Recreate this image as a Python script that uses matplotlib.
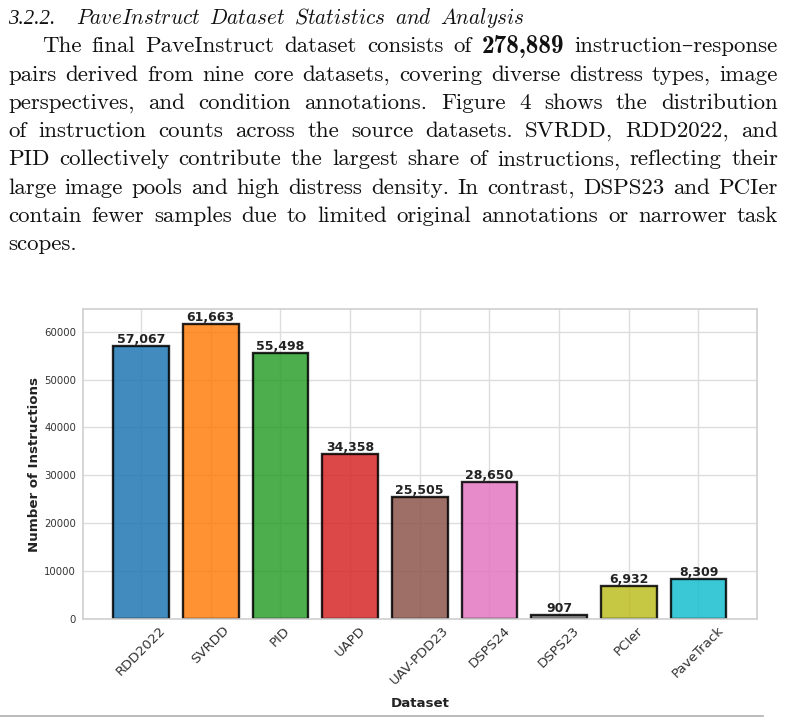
import matplotlib
matplotlib.use("Agg")
import matplotlib.pyplot as plt
from matplotlib.lines import Line2D

# chart data
datasets = ["RDD2022", "SVRDD", "PID", "UAPD", "UAV-PDD23",
            "DSPS24", "DSPS23", "PCIer", "PaveTrack"]
counts = [57067, 61663, 55498, 34358, 25505, 28650, 907, 6932, 8309]
bar_colors = ["tab:blue", "tab:orange", "tab:green", "tab:red", "tab:brown",
              "tab:pink", "tab:gray", "tab:olive", "tab:cyan"]

# page text
heading_num = "3.2.2."
heading = "PaveInstruct Dataset Statistics and Analysis"
para_lines = [
    "The final PaveInstruct dataset consists of **278,889 instruction–response",
    "pairs derived from nine core datasets, covering diverse distress types, image",
    "perspectives, and condition annotations. Figure 4 shows the distribution",
    "of instruction counts across the source datasets. SVRDD, RDD2022, and",
    "PID collectively contribute the largest share of instructions, reflecting their",
    "large image pools and high distress density. In contrast, DSPS23 and PCIer",
    "contain fewer samples due to limited original annotations or narrower task",
    "scopes.",
]

W, H, DPI = 788, 723, 100
plt.rcParams["mathtext.fontset"] = "cm"
fig = plt.figure(figsize=(W / DPI, H / DPI), dpi=DPI)
pending = []


def put_words(words, y, x0, x1=None, size=16.5, math_it=False):
    texts = []
    for w in words:
        bold = w.startswith("**")
        s = w.lstrip("*")
        if math_it:
            s = r"$\mathit{" + s + "}$"
        fam = ["cmb10" if bold else "cmr10", "DejaVu Serif"]
        texts.append(fig.text(0, 1 - y / H, s, fontsize=size * 1.1 if bold else size,
                              family=fam, va="baseline", ha="left", color="#111111"))
    pending.append((texts, x0, x1, 0.33 * size * DPI / 72))


# section heading
fig.text(8 / W, 1 - 24 / H, heading_num, fontsize=15, family="Liberation Serif",
         style="italic", va="baseline", color="#111111")
put_words(heading.split(), 24, 76, 525, size=15.3, math_it=True)

for i, line in enumerate(para_lines):
    y = 52.5 + i * 28.2
    x0 = 42 if i == 0 else 8
    x1 = None if i == len(para_lines) - 1 else 778
    put_words(line.split(), y, x0, x1)

# bar chart
ax = fig.add_axes([82.5 / W, 1 - 619 / H, (757 - 82.5) / W, (619 - 309) / H])
xpos = list(range(len(datasets)))
bars = ax.bar(xpos, counts, width=0.8, color=bar_colors, alpha=0.85,
              edgecolor="black", linewidth=1.7, zorder=2)
ax.set_axisbelow(True)
ax.grid(True, color="#dddddd", linewidth=1.0)
ax.bar_label(bars, labels=[f"{c:,}" for c in counts], fontsize=9,
             fontweight="bold", color="#222222", padding=0)
ax.set_ylim(0, max(counts) * 1.05)
ax.set_xticks(xpos)
ax.set_xticklabels(datasets, rotation=45, fontsize=9.6, color="#333333")
ax.tick_params(axis="both", length=0)
ax.tick_params(axis="y", labelsize=7.3, labelcolor="#333333", pad=4.5)
ax.set_ylabel("Number of Instructions", fontsize=9.6, fontweight="bold",
              color="#222222", labelpad=2.5)
ax.set_xlabel("Dataset", fontsize=9.6, fontweight="bold", color="#222222",
              labelpad=7)
for s in ax.spines.values():
    s.set_color("#d0d0d0")
    s.set_linewidth(1.2)

fig.add_artist(Line2D([0, 763 / W], [1 - 716 / H] * 2, color="#b0b0b0", lw=1.2))

# justify the text lines once real extents are known
fig.canvas.draw()
for texts, x0, x1, gap in pending:
    widths = [t.get_window_extent().width for t in texts]
    if x1 is not None and len(texts) > 1:
        gap = (x1 - x0 - sum(widths)) / (len(texts) - 1)
    x = x0
    for t, w in zip(texts, widths):
        t.set_x(x / W)
        x += w + gap

fig.savefig("out.png", dpi=DPI)
